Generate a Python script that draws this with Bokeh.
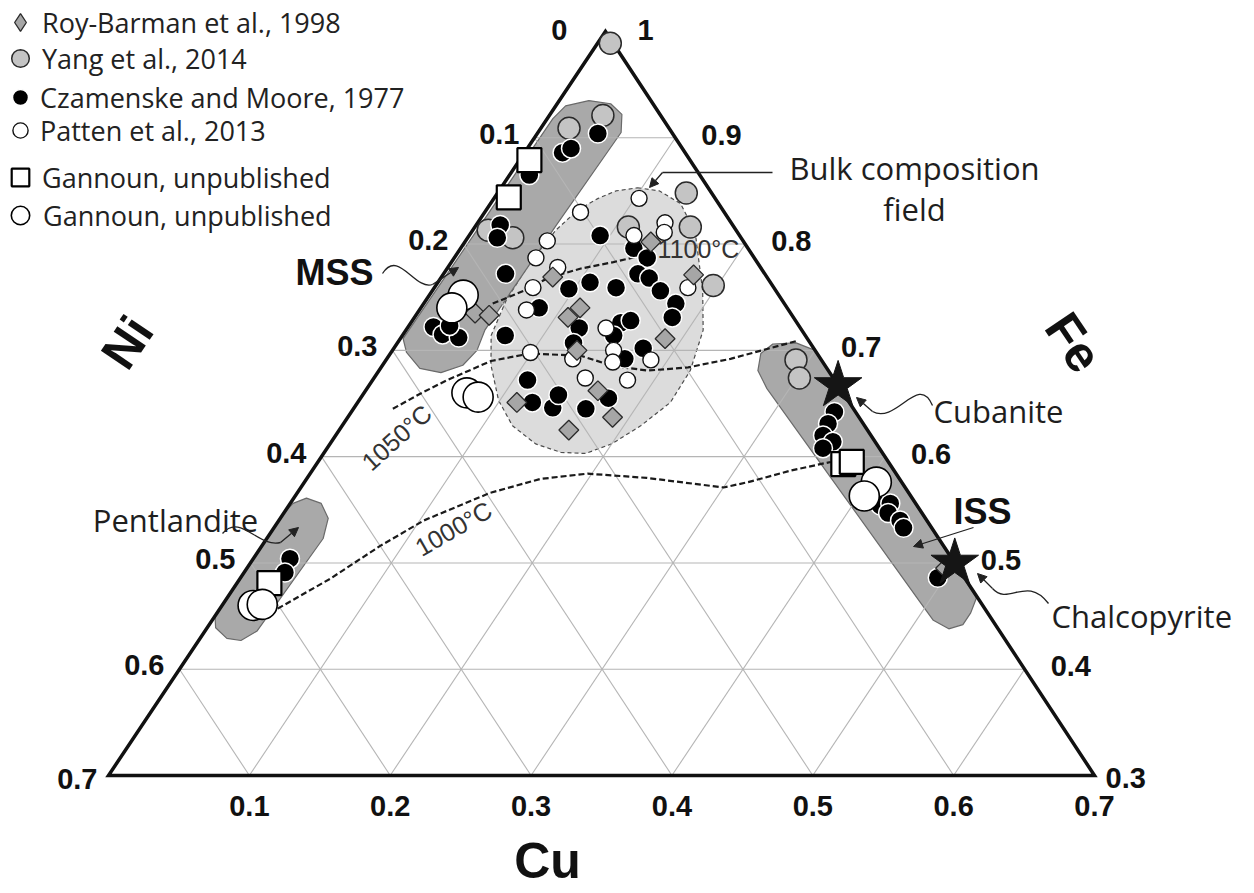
import numpy as np
from bokeh.plotting import figure
from bokeh.models import ColumnDataSource, Range1d, Legend, LegendItem, Arrow, NormalHead
from bokeh.core.properties import value
from bokeh.embed import file_html
from bokeh.resources import INLINE

# ------------------------------------------------------------------ data
# compositions (fractions; Ni = 1 - Cu - Fe)
roy_cu = [0.132, 0.079, 0.178, 0.113, 0.109, 0.188, 0.131, 0.113, 0.165, 0.188, 0.163, 0.041, 0.052, 0.496]
roy_fe = [0.802, 0.769, 0.771, 0.740, 0.731, 0.711, 0.700, 0.651, 0.662, 0.637, 0.625, 0.735, 0.733, 0.495]

yang_cu = [0.009, 0.038, 0.020, 0.011, 0.032, 0.134, 0.109, 0.153, 0.197, 0.291, 0.302]
yang_fe = [0.989, 0.921, 0.909, 0.813, 0.806, 0.848, 0.816, 0.816, 0.761, 0.691, 0.674]

cz_cu = [0.043, 0.027, 0.031, 0.014, 0.017, 0.021, 0.018, 0.028, 0.041, 0.029,
         0.093, 0.123, 0.137, 0.044, 0.084, 0.096, 0.108, 0.129, 0.138, 0.148,
         0.162, 0.179, 0.183, 0.122, 0.149, 0.155, 0.073, 0.125, 0.169, 0.177,
         0.110, 0.124, 0.141, 0.139, 0.165, 0.176, 0.150,
         0.026, 0.029,
         0.343, 0.344, 0.346, 0.356, 0.352, 0.420, 0.426, 0.429, 0.441, 0.447, 0.495]
cz_fe = [0.904, 0.886, 0.890, 0.865, 0.818, 0.806, 0.722, 0.715, 0.712, 0.723,
         0.808, 0.796, 0.787, 0.772, 0.740, 0.758, 0.764, 0.759, 0.772, 0.768,
         0.756, 0.744, 0.731, 0.721, 0.726, 0.728, 0.714, 0.707, 0.692, 0.702,
         0.672, 0.651, 0.646, 0.658, 0.645, 0.655, 0.714,
         0.504, 0.491,
         0.642, 0.631, 0.620, 0.614, 0.608, 0.554, 0.556, 0.547, 0.540, 0.533, 0.486]

pat_cu = [0.068, 0.103, 0.058, 0.058, 0.078, 0.117, 0.133, 0.137, 0.070, 0.076,
          0.180, 0.141, 0.099, 0.132, 0.157, 0.162, 0.188, 0.150, 0.181]
pat_fe = [0.830, 0.843, 0.803, 0.787, 0.778, 0.808, 0.820, 0.811, 0.759, 0.738,
          0.759, 0.721, 0.698, 0.692, 0.700, 0.689, 0.691, 0.674, 0.672]

gsq_cu = [0.007, 0.010, 0.023, 0.374, 0.379]
gsq_fe = [0.879, 0.844, 0.481, 0.593, 0.595]

gci_cu = [0.024, 0.022, 0.073, 0.083, 0.022, 0.028, 0.406, 0.404]
gci_fe = [0.752, 0.740, 0.660, 0.656, 0.460, 0.461, 0.576, 0.563]

mineral_names = ["Cubanite", "Chalcopyrite"]
mineral_cu = [0.333, 0.500]
mineral_fe = [0.667, 0.500]

# phase fields (outline compositions)
mss_cu = [0.004, 0.007, 0.021, 0.038, 0.051, 0.059, 0.057, 0.056, 0.060, 0.057, 0.045, 0.028, 0.011, 0.002]
mss_fe = [0.918, 0.930, 0.935, 0.932, 0.922, 0.905, 0.818, 0.719, 0.700, 0.686, 0.679, 0.683, 0.698, 0.711]
iss_cu = [0.300, 0.283, 0.267, 0.263, 0.269, 0.284, 0.492, 0.512, 0.527, 0.535, 0.535, 0.532]
iss_fe = [0.700, 0.707, 0.706, 0.697, 0.681, 0.664, 0.465, 0.446, 0.438, 0.442, 0.453, 0.467]
pent_cu = [0.000, 0.002, 0.009, 0.022, 0.034, 0.040, 0.037, 0.030, 0.019, 0.006, 0.000]
pent_fe = [0.547, 0.556, 0.561, 0.556, 0.542, 0.523, 0.436, 0.427, 0.429, 0.439, 0.450]
bulk_cu = [0.097, 0.114, 0.135, 0.159, 0.192, 0.211, 0.221, 0.222, 0.212, 0.200, 0.186, 0.168,
           0.146, 0.121, 0.099, 0.077, 0.063, 0.057, 0.056, 0.059, 0.065, 0.074, 0.083]
bulk_fe = [0.853, 0.850, 0.838, 0.811, 0.756, 0.719, 0.681, 0.651, 0.629, 0.612, 0.603, 0.604,
           0.612, 0.629, 0.653, 0.686, 0.714, 0.747, 0.783, 0.813, 0.832, 0.843, 0.850]

# isotherms
t1100_cu = [0.049, 0.065, 0.076, 0.095, 0.115, 0.134]
t1100_fe = [0.744, 0.756, 0.768, 0.777, 0.783, 0.790]
t1050_cu = [0.028, 0.040, 0.053, 0.075, 0.099, 0.136, 0.165, 0.191, 0.218, 0.244, 0.283]
t1050_fe = [0.645, 0.659, 0.672, 0.690, 0.697, 0.695, 0.685, 0.681, 0.684, 0.692, 0.709]
t1000_cu = [0.041, 0.064, 0.084, 0.103, 0.137, 0.166, 0.197, 0.241, 0.300, 0.315, 0.340, 0.364]
t1000_fe = [0.457, 0.485, 0.516, 0.540, 0.566, 0.579, 0.584, 0.580, 0.571, 0.576, 0.587, 0.595]

# axis ticks
grid_steps = [0.1, 0.2, 0.3, 0.4, 0.5, 0.6]
ni_ticks = [0.0, 0.1, 0.2, 0.3, 0.4, 0.5, 0.6, 0.7]
ni_tick_labels = ["0", "0.1", "0.2", "0.3", "0.4", "0.5", "0.6", "0.7"]
fe_ticks = [1.0, 0.9, 0.8, 0.7, 0.6, 0.5, 0.4, 0.3]
fe_tick_labels = ["1", "0.9", "0.8", "0.7", "0.6", "0.5", "0.4", "0.3"]
cu_ticks = [0.1, 0.2, 0.3, 0.4, 0.5, 0.6, 0.7]
cu_tick_labels = ["0.1", "0.2", "0.3", "0.4", "0.5", "0.6", "0.7"]

# ------------------------------------------------------------------ geometry
FE_MIN, SPAN, SKEW = 0.3, 0.7, 0.504


def tern(cu, fe):
    cu = np.asarray(cu, dtype=float)
    fe = np.asarray(fe, dtype=float)
    c = (fe - FE_MIN) / SPAN
    return cu / SPAN + SKEW * c, c


W, H = 1254, 893
LEFT_PX, BASE_PX, PX_X, PX_Y = 108.0, 775.0, 986.0, 744.0
x_start = -LEFT_PX / PX_X
x_end = x_start + W / PX_X
y_end = BASE_PX / PX_Y
y_start = y_end - H / PX_Y


def S(px, py):
    """layout helper for annotations: pixel position -> plot coordinates"""
    return (px - LEFT_PX) / PX_X, (BASE_PX - py) / PX_Y


p = figure(width=W, height=H, x_range=Range1d(x_start, x_end), y_range=Range1d(y_start, y_end),
           x_axis_type=None, y_axis_type=None, output_backend="svg", toolbar_location=None,
           min_border=0, outline_line_color=None, background_fill_color="white",
           border_fill_color="white")

# ---- fields
bx, by = tern(bulk_cu, bulk_fe)
p.patch(bx, by, fill_color="#dcdcdc", line_color="#4d4d4d", line_width=1.2, line_dash="4 3")
for fcu, ffe in [(mss_cu, mss_fe), (iss_cu, iss_fe), (pent_cu, pent_fe)]:
    fx, fy = tern(fcu, ffe)
    p.patch(fx, fy, fill_color="#a9a9a9", line_color="#6a6a6a", line_width=1.2)

# ---- grid
gx, gy = [], []
for v in grid_steps:
    for c0, f0, c1, f1 in [(0.0, 0.3 + v, 0.7 - v, 0.3 + v),
                           (v, 0.3, v, 1.0 - v),
                           (0.7 - v, 0.3, 0.0, 1.0 - v)]:
        lx, ly = tern([c0, c1], [f0, f1])
        gx.append(list(lx))
        gy.append(list(ly))
p.multi_line(gx, gy, line_color="#b5b5b5", line_width=1.1)

# ---- triangle
tx, ty = tern([0.0, 0.7, 0.0], [0.3, 0.3, 1.0])
p.patch(tx, ty, fill_alpha=0, line_color="#111111", line_width=3.5, line_join="miter")

# ---- isotherms
for icu, ife in [(t1100_cu, t1100_fe), (t1050_cu, t1050_fe), (t1000_cu, t1000_fe)]:
    ix, iy = tern(icu, ife)
    p.line(ix, iy, line_color="#1a1a1a", line_width=2.2, line_dash="6 3")


def put_text(txt, pos, size, font="Liberation Sans", style="normal", align="center",
             angle=0.0, color="#1e1e1e"):
    x, y = S(*pos)
    p.text(x=[x], y=[y], text=[txt], text_font=value(font), text_font_style=style,
           text_font_size=size, text_align=align, text_baseline="middle",
           angle=np.deg2rad(angle), text_color=color)


put_text("1100°C", (698, 248), "25px", color="#333333")
put_text("1050°C", (396, 437), "25px", angle=42, color="#333333")
put_text("1000°C", (453, 528), "25px", angle=30, color="#333333")

# ---- data points
x, y = tern(yang_cu, yang_fe)
r_yang = p.scatter(x, y, marker="circle", size=22, fill_color="#c4c4c4", line_color="#2a2a2a", line_width=1.5)
x, y = tern(cz_cu, cz_fe)
r_cz = p.scatter(x, y, marker="circle", size=19, fill_color="#000000", line_color="white", line_width=1.5)
x, y = tern(pat_cu, pat_fe)
r_pat = p.scatter(x, y, marker="circle", size=16, fill_color="white", line_color="#111111", line_width=1.4)
x, y = tern(roy_cu, roy_fe)
roy_style = dict(fill_color="#a6a6a6", line_color="#2a2a2a", line_width=1.3)
p.scatter(x, y, marker="square", size=14, angle=np.pi / 4, **roy_style)
# same series as a hidden diamond glyph, used only as the legend key
r_roy_key = p.scatter(x, y, marker="diamond", size=20, visible=False, **roy_style)
x, y = tern(gsq_cu, gsq_fe)
r_gsq = p.scatter(x, y, marker="square", size=24, fill_color="white", line_color="#000000", line_width=2.2)
x, y = tern(gci_cu, gci_fe)
r_gci = p.scatter(x, y, marker="circle", size=30, fill_color="white", line_color="#000000", line_width=1.6)
x, y = tern(mineral_cu, mineral_fe)
p.scatter(x, y, marker="star", size=50, fill_color="#151515", line_color="#151515")

# ---- annotation texts
put_text("MSS", (334, 272), "36px", style="bold", color="#111111")
put_text("ISS", (982, 511), "36px", style="bold", color="#111111")
put_text("Pentlandite", (175, 519), "31px", font="Open Sans")
put_text("Bulk composition", (914, 167), "31px", font="Open Sans")
put_text("field", (914, 208), "31px", font="Open Sans")
put_text("Cubanite", (933, 410), "31px", font="Open Sans", align="left")
put_text("Chalcopyrite", (1051, 615), "31px", font="Open Sans", align="left")
put_text("Ni", (127, 342), "50px", style="bold", angle=56, color="#111111")
put_text("Fe", (1073, 342), "50px", style="bold", angle=-56, color="#111111")
put_text("Cu", (547, 860), "50px", style="bold", color="#111111")

# curved leader lines
curves = [((382, 273), (432, 284), (398, 248), (414, 290)),
          ((222, 533), (280, 542), (240, 512), (258, 548)),
          ((932, 405), (872, 411), (918, 372), (896, 424)),
          ((1048, 603), (992, 588), (1026, 574), (1008, 606))]
cv = {k: [] for k in ["x0", "y0", "x1", "y1", "cx0", "cy0", "cx1", "cy1"]}
for a, b, c0, c1 in curves:
    for (kx, ky), pt in zip([("x0", "y0"), ("x1", "y1"), ("cx0", "cy0"), ("cx1", "cy1")], [a, b, c0, c1]):
        sx, sy = S(*pt)
        cv[kx].append(sx)
        cv[ky].append(sy)
p.bezier(source=ColumnDataSource(cv), x0="x0", y0="y0", x1="x1", y1="y1",
         cx0="cx0", cy0="cy0", cx1="cx1", cy1="cy1", line_color="#222222", line_width=1.3)

arrows = [((432, 284), (458, 267), True), ((280, 542), (298, 527), True),
          ((872, 411), (856, 397), True), ((992, 588), (977, 573), True),
          ((973, 527), (913, 546), True), ((662, 172), (649, 187), True),
          ((772, 172), (662, 172), False)]
for a, b, head in arrows:
    xa, ya = S(*a)
    xb, yb = S(*b)
    p.add_layout(Arrow(x_start=xa, y_start=ya, x_end=xb, y_end=yb, line_color="#222222", line_width=1.3,
                       end=NormalHead(size=9, fill_color="#222222", line_color="#222222") if head else None))


# ---- tick labels
def tick_texts(cu, fe, labels, dx, dy, align):
    x, y = tern(cu, fe)
    src = ColumnDataSource(dict(x=x, y=y, text=labels, dx=dx, dy=dy))
    p.text(x="x", y="y", text="text", x_offset="dx", y_offset="dy", source=src,
           text_font=value("Liberation Sans"), text_font_style="bold", text_font_size="29px",
           text_align=align, text_baseline="middle", text_color="#111111")


ni = np.array(ni_ticks)
tick_texts(np.zeros_like(ni), 1.0 - ni, ni_tick_labels,
           [-38] + [-15] * 6 + [-11], [-2] + [-4] * 6 + [3], "right")
fe = np.array(fe_ticks)
tick_texts(1.0 - fe, fe, fe_tick_labels,
           [32] + [26] * 6 + [11], [-2] + [-3] * 6 + [2], "left")
cu = np.array(cu_ticks)
tick_texts(cu, np.full_like(cu, 0.3), cu_tick_labels, [0] * 7, [30] * 7, "center")

# ---- legend (one block per entry so that each key has its own size)
legend_rows = [(r_roy_key, "Roy-Barman et al., 1998", 44, 22),
               (r_yang, "Yang et al., 2014", 44, 58),
               (r_cz, "Czamenske and Moore, 1977", 40, 97),
               (r_pat, "Patten et al., 2013", 38, 130),
               (r_gsq, "Gannoun, unpublished", 44, 177),
               (r_gci, "Gannoun, unpublished", 46, 215)]
for rend, lab, G, yc in legend_rows:
    lg = Legend(items=[LegendItem(label=lab, renderers=[rend])],
                location=(20 - G / 2, H - yc - G / 2),
                glyph_width=G, glyph_height=G, label_standoff=int(max(0, round(20 - G / 2))),
                padding=0, margin=0, spacing=0, border_line_alpha=0, background_fill_alpha=0,
                inactive_fill_alpha=0,
                label_text_font="Open Sans", label_text_font_size="27px", label_text_color="#222222")
    p.add_layout(lg)

open("out.html", "w").write(file_html(p, INLINE))
